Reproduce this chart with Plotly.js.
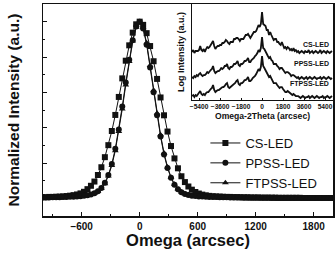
<!DOCTYPE html>
<html><head><meta charset="utf-8">
<script src="https://cdn.plot.ly/plotly-3.0.1.min.js"></script>
<style>html,body{margin:0;padding:0;background:#fff}#c{width:335px;height:254px}</style>
</head><body><div id="c"></div>
<script>
// Main chart: omega rocking curves (normalized)
var omega = [-1008,-972,-936,-900,-864,-828,-792,-756,-720,-684,-648,-612,-576,-540,-504,-468,-432,-396,-360,-324,-288,-252,-216,-180,-144,-108,-72,-36,0,36,72,108,144,180,216,252,288,324,360,396,432,468,504,540,576,612,648,684,720,756,792,828,864,900,936,972,1008,1044,1080,1116,1152,1188,1224,1260,1296,1332,1368,1404,1440,1476,1512,1548,1584,1620,1656,1692,1728,1764,1800,1836,1872,1908,1944,1980,2016];
var csLED = [0.007,0.006,0.008,0.008,0.009,0.010,0.011,0.013,0.015,0.018,0.022,0.028,0.037,0.052,0.071,0.095,0.132,0.176,0.233,0.301,0.381,0.472,0.574,0.679,0.779,0.866,0.938,0.985,
 1.000,
 0.982,0.935,0.862,0.776,0.676,0.571,0.470,0.378,0.296,0.226,0.170,0.125,0.092,0.067,0.049,0.036,0.027,0.021,0.017,0.014,0.012,0.011,0.010,0.009,0.008,0.008,0.007,0.007,0.006,0.006,0.006,0.005,0.005,0.005,0.004,0.004,0.004,0.004,0.004,0.003,0.003,0.003,0.003,0.003,0.003,0.003,0.002,0.002,0.002,0.002,0.002,0.002,0.002,0.002,0.002,0.002];
var ppssLED = [0.0045,0.0048,0.0052,0.0056,0.0061,0.0066,0.0072,0.0078,0.0086,0.0095,0.0105,0.012,0.014,0.017,0.021,0.029,0.040,0.058,0.088,0.132,0.195,0.28,0.39,0.52,0.655,0.785,0.895,0.972,
 1.000,
 0.962,0.87,0.74,0.60,0.47,0.35,0.248,0.172,0.116,0.077,0.051,0.035,0.025,0.019,0.015,0.013,0.011,0.010,0.009,0.008,0.0075,0.007,0.0065,0.006,0.0055,0.005,0.0048,0.0045,0.0042,0.004,0.0037,0.0035,0.0033,0.0031,0.003,0.0028,0.0026,0.0025,0.0024,0.0023,0.0021,0.002,0.002,0.0019,0.0018,0.0017,0.0016,0.0016,0.0015,0.0014,0.0014,0.0013,0.0013,0.0012,0.0012,0.0011];
var ftpssLED = [0.004,0.005,0.005,0.006,0.006,0.007,0.007,0.008,0.009,0.010,0.011,0.012,0.014,0.017,0.021,0.028,0.038,0.055,0.083,0.126,0.186,0.27,0.378,0.505,0.642,0.775,0.89,0.968,
 1.000,
 0.965,0.88,0.752,0.612,0.482,0.36,0.256,0.178,0.12,0.08,0.053,0.036,0.026,0.02,0.016,0.013,0.011,0.010,0.009,0.008,0.0075,0.007,0.0065,0.006,0.0055,0.005,0.0048,0.0045,0.0042,0.004,0.0037,0.0035,0.0033,0.0031,0.003,0.0028,0.0026,0.0025,0.0024,0.0023,0.0021,0.002,0.002,0.0019,0.0018,0.0017,0.0016,0.0016,0.0015,0.0014,0.0014,0.0013,0.0013,0.0012,0.0012,0.0011];
var seriesNames = ["CS-LED","PPSS-LED","FTPSS-LED"];
var xTicks = [-600,0,600,1200,1800];

// Inset: omega-2theta scans (log intensity, offset, arbitrary units)
var o2t = [-6000,-5900,-5800,-5700,-5600,-5500,-5400,-5300,-5200,-5100,-5000,-4900,-4800,-4700,-4600,-4500,-4400,-4300,-4200,-4100,-4000,-3900,-3800,-3700,-3600,-3500,-3400,-3300,-3200,-3100,-3000,-2900,-2800,-2700,-2600,-2500,-2400,-2300,-2200,-2100,-2000,-1900,-1800,-1700,-1600,-1500,-1400,-1300,-1200,-1100,-1000,-900,-800,-700,-600,-500,-400,-300,-200,-100,0,100,200,300,400,500,600,700,800,900,1000,1100,1200,1300,1400,1500,1600,1700,1800,1900,2000,2100,2200,2300,2400,2500,2600,2700,2800,2900,3000,3100,3200,3300,3400,3500,3600,3700,3800,3900,4000,4100,4200,4300,4400,4500,4600,4700,4800,4900,5000,5100,5200,5300,5400,5500,5600,5700,5800,5900,6000];
var csLog = [48,50,47,49,49,49,50,54,50,49, 51,48,51,53,52,53,55,57,59,54, 51,53,54,54,55,55,57,57,58,60, 59,57,56,58,58,58,61,61,62,62, 61,59,61,61,61,63,65,65,66,64, 62,64,66,68,68,69,72,75,73,76, 88,76,75,74,70,70,65,68,65,63, 60,61,61,58,58,56,55,58,55,52, 53,51,53,52,50,51,49,52,49,50, 48,49,47,48,49,48,47,49,48,48, 50,47,48,49,47,48,49,48,47,48, 50,47,48,49,48,47,49,48,47,48, 49];
var ppssLog = [23,22,24,23,25,24,26,27,25,24, 25,25,26,28,27,29,30,31,34,29, 27,28,29,29,30,32,31,32,34,34, 36,32,31,33,33,34,36,36,37,39, 35,34,36,36,37,39,39,40,42,38, 38,40,41,42,44,45,47,50,48,52, 63,52,51,48,47,44,42,43,40,39, 36,36,36,34,33,31,32,32,30,28, 27,28,28,27,26,24,25,25,24,23, 22,23,21,22,23,22,21,22,23,21, 22,23,22,21,22,23,22,21,22,22, 23,21,22,23,22,21,22,23,22,21, 22];
var ftpssLog = [4,5,3,5,4,6,7,9,6,5, 6,5,7,8,8,10,11,12,15,10, 8,9,10,10,11,12,13,13,14,16, 17,13,12,13,14,15,16,17,19,20, 16,15,17,17,18,20,20,21,23,19, 19,20,22,23,24,26,28,31,29,33, 44,34,32,30,28,26,23,24,22,20, 17,17,17,15,13,12,13,13,11,9, 8,8,9,8,7,6,5,6,5,4, 4,4,3,2,3,4,3,2,3,3, 4,2,3,4,3,2,3,4,3,2, 3,3,4,2,3,3,4,3,2,3, 4];
var insetTicks = [-5400,-3600,-1800,0,1800,3600,5400];
var insetLabelY = [56,37,17];

var F = "Arial, 'Liberation Sans', sans-serif";
var ink = "#111";
var symbols = ["square","circle","triangle-up"];
var mainY = [csLED, ppssLED, ftpssLED];
var insetY = [csLog, ppssLog, ftpssLog];

var traces = [];
for (var k = 0; k < 3; k++) {
  traces.push({
    x: omega, y: mainY[k], type: "scatter", mode: "lines+markers", name: seriesNames[k],
    line: {color: ink, width: 1},
    marker: {symbol: symbols[k], size: 6, color: ink},
    xaxis: "x", yaxis: "y"
  });
}
for (var k = 0; k < 3; k++) {
  traces.push({
    x: o2t, y: insetY[k], type: "scatter", mode: "lines", showlegend: false,
    line: {color: ink, width: 1.8},
    xaxis: "x2", yaxis: "y2"
  });
}

var annotations = [];
for (var k = 0; k < 3; k++) {
  annotations.push({
    xref: "x2", yref: "y2", x: 5900, y: insetLabelY[k], xanchor: "right", yanchor: "middle",
    text: seriesNames[k], showarrow: false,
    font: {family: F, size: 7, color: ink, weight: 700}
  });
}

var layout = {
  width: 335, height: 254,
  margin: {l: 43, r: 2, t: 4, b: 38},
  paper_bgcolor: "#fff", plot_bgcolor: "#fff",
  showlegend: true,
  legend: {x: 0.56, y: 0.415, xanchor: "left", yanchor: "top", bgcolor: "rgba(0,0,0,0)",
           font: {family: F, size: 13, color: ink}, tracegroupgap: 0},
  xaxis: {
    domain: [0, 1], range: [-1000, 2000], tickvals: xTicks,
    ticks: "inside", ticklen: 4, tickwidth: 1, tickcolor: ink,
    minor: {dtick: 300, tick0: 0, ticks: "inside", ticklen: 2, tickcolor: ink, showgrid: false},
    showline: true, linecolor: ink, linewidth: 1.5, mirror: true,
    showgrid: false, zeroline: false,
    tickfont: {family: F, size: 10, color: ink, weight: 700},
    title: {text: "Omega (arcsec)", standoff: 3, font: {family: F, size: 16.5, color: ink, weight: 700}}
  },
  yaxis: {
    domain: [0, 1], range: [-0.1, 1.1], tick0: 0, dtick: 0.2,
    ticks: "inside", ticklen: 4, tickwidth: 1, tickcolor: ink, showticklabels: false,
    minor: {dtick: 0.1, tick0: 0, ticks: "inside", ticklen: 2, tickcolor: ink, showgrid: false},
    showline: true, linecolor: ink, linewidth: 1.5, mirror: true,
    showgrid: false, zeroline: false,
    title: {text: "Normalized Intensity (a.u.)", standoff: 18, font: {family: F, size: 15.5, color: ink, weight: 700}}
  },
  xaxis2: {
    domain: [0.514, 1], range: [-6000, 6086], anchor: "y2", tickvals: insetTicks,
    ticks: "inside", ticklen: 2, tickcolor: ink,
    showline: true, linecolor: ink, linewidth: 1.3, mirror: true,
    showgrid: false, zeroline: false,
    tickfont: {family: F, size: 6.6, color: ink, weight: 700},
    title: {text: "Omega-2Theta (arcsec)", standoff: 3, font: {family: F, size: 8.6, color: ink, weight: 700}}
  },
  yaxis2: {
    domain: [0.547, 1], range: [0, 96], anchor: "x2",
    showticklabels: false, ticks: "",
    showline: true, linecolor: ink, linewidth: 1.3, mirror: true,
    showgrid: false, zeroline: false,
    title: {text: "Log Intensity (a.u.)", standoff: 4, font: {family: F, size: 9, color: ink, weight: 700}}
  },
  annotations: annotations
};

Plotly.newPlot("c", traces, layout, {staticPlot: true, displayModeBar: false});
</script>
</body></html>
